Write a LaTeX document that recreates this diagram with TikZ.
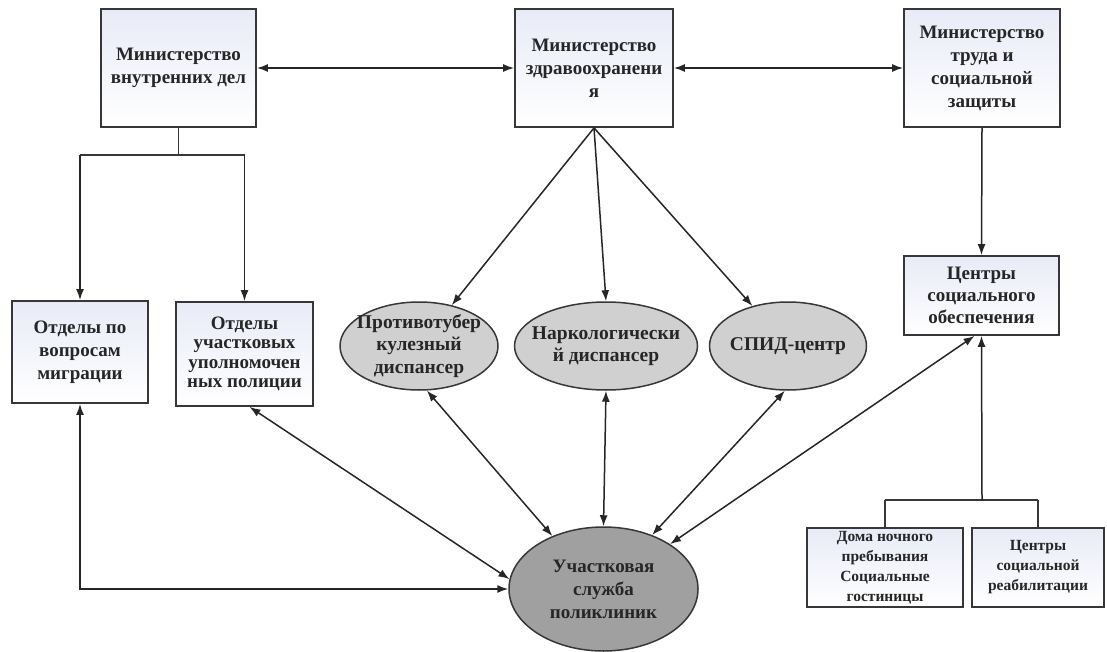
\documentclass[tikz,border=0pt]{standalone}
\usepackage{fontspec}
\setmainfont{Liberation Serif}
\usetikzlibrary{arrows.meta,shapes.geometric,calc}
\definecolor{boxtop}{RGB}{232,235,247}
\definecolor{ellfill}{RGB}{208,208,208}
\definecolor{ellfilldark}{RGB}{160,160,160}
\definecolor{edgegray}{RGB}{55,55,55}
\begin{document}
\begin{tikzpicture}[x=1pt,y=-1pt,
  box/.style={draw=edgegray, line width=1.8pt, top color=boxtop, bottom color=white,
    align=center, inner sep=1pt, text=black!85,
    font=\bfseries\fontsize{19}{23}\selectfont},
  smallbox/.style={box, font=\bfseries\fontsize{15.5}{20}\selectfont},
  ell/.style={ellipse, draw=edgegray, line width=1.5pt, fill=ellfill, inner sep=0pt},
  elltext/.style={align=center, inner sep=0pt, text=black!85,
    font=\bfseries\fontsize{19.5}{22.5}\selectfont},
  tip/.tip={Latex[length=11pt,width=8pt]},
  arr/.style={-tip, line width=1.5pt, draw=black!85},
  barr/.style={tip-tip, line width=1.5pt, draw=black!85},
  ln/.style={line width=1.7pt, draw=edgegray}
]
\useasboundingbox (0,0) rectangle (1107,652);

% top row
\node[box, minimum width=155pt, minimum height=118pt] (mvd) at (178.5,68) {Министерство\\внутренних дел};
\node[box, minimum width=158pt, minimum height=118pt] (mz) at (594,68) {Министерство\\здравоохранени\\я};
\node[box, minimum width=156pt, minimum height=118pt] (mt) at (982,68) {Министерство\\труда и\\социальной\\защиты};

% second row
\node[box, minimum width=136pt, minimum height=102pt] (mig) at (80,352) {Отделы по\\вопросам\\миграции};
\node[box, minimum width=137pt, minimum height=104pt, font=\bfseries\fontsize{19}{19.5}\selectfont] (uch) at (244.5,354) {Отделы\\участковых\\уполномочен\\ных полиции};
\node[ell, minimum width=158pt, minimum height=88pt] (tb) at (419,346) {};
\node[elltext] (tbt) at (tb.center) {Противотубер\\кулезный\\диспансер};
\node[ell, minimum width=183pt, minimum height=88pt] (nk) at (606,346) {};
\node[elltext] (nkt) at (nk.center) {Наркологически\\й диспансер};
\node[ell, minimum width=157pt, minimum height=88pt] (spid) at (788,346) {};
\node[elltext] (spidt) at (spid.center) {СПИД-центр};
\node[box, minimum width=155pt, minimum height=79pt, font=\bfseries\fontsize{19}{22}\selectfont] (cso) at (981.5,295.5) {Центры\\социального\\обеспечения};

% bottom
\node[ell, fill=ellfilldark, minimum width=189pt, minimum height=124pt] (uchs) at (603.5,589) {};
\node[elltext, font=\bfseries\fontsize{19}{23}\selectfont] (uchst) at (uchs.center) {Участковая\\служба\\поликлиник};
\node[smallbox, minimum width=156pt, minimum height=79pt] (dom) at (885,567.5) {Дома ночного\\пребывания\\Социальные\\гостиницы};
\node[smallbox, minimum width=132pt, minimum height=79pt] (reab) at (1038,567.5) {Центры\\социальной\\реабилитации};

% top connections
\draw[barr] (mvd.east) -- (mz.west);
\draw[barr] (mz.east) -- (mt.west);

% MVD branches
\coordinate (j1) at (178.5,155);
\draw[ln] (mvd.south) -- (j1);
\draw[ln] (mig.north |- j1) -- (uch.north |- j1);
\draw[arr] (mig.north |- j1) -- (mig.north);
\draw[arr] (uch.north |- j1) -- (uch.north);

% Minzdrav branches
\draw[arr] (mz.south) -- (tb);
\draw[arr] (mz.south) -- (nk.north);
\draw[arr] (mz.south) -- (spid);

% Mintrud
\draw[arr] (mt.south) -- (cso.north);

% bottom bracket
\coordinate (j2) at (982,500);
\draw[ln] (dom.north |- j2) -- (reab.north |- j2);
\draw[ln] (dom.north |- j2) -- (dom.north);
\draw[ln] (reab.north |- j2) -- (reab.north);
\draw[arr] (j2) -- (cso.south);

% links to Участковая служба
\draw[barr] (mig.south) |- (uchs.west);
\draw[barr] ([xshift=5pt]uch.south) -- (uchs.174);
\draw[barr] (tb.-80) -- (uchs.134);
\draw[barr] (nk.south) -- (uchs.north);
\draw[barr] (spid.-94) -- (uchs.48);
\draw[barr] ([xshift=-7pt]cso.south) -- (uchs.34);
\end{tikzpicture}
\end{document}
